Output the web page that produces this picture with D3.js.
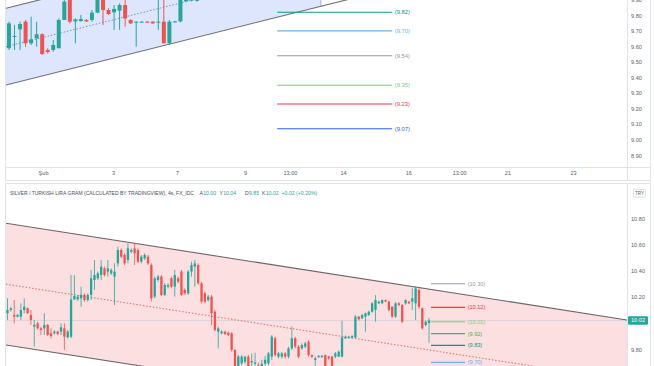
<!DOCTYPE html>
<html><head><meta charset="utf-8">
<script src="https://cdn.jsdelivr.net/npm/d3@7"></script>
<style>
body{margin:0;background:#fff;}
svg{display:block;font-family:"Liberation Sans",Arial,sans-serif;}
</style>
</head><body>
<svg id="c" width="654" height="366"></svg>
<script>
// ---------------- TOP PANEL DATA ----------------
const topOpen  = [9.588,9.662,9.710,9.759,9.620,9.652,9.678,9.577,9.577,9.588,9.770,9.900,9.761,9.763,9.770,9.770,9.817,9.900,9.834,9.819,9.830,9.866,9.770,9.753,9.757,9.759,9.759,9.757,9.759,9.620,9.757,9.761,9.890,9.895,9.893];
const topHigh  = [9.759,9.738,9.759,9.770,9.791,9.759,9.684,9.588,9.641,9.780,9.900,9.920,9.780,9.802,9.775,9.834,9.920,9.920,9.845,9.866,9.877,9.898,9.774,9.761,9.761,9.763,9.761,9.900,9.900,9.770,9.763,9.930,9.930,9.930,9.930];
const topLow   = [9.577,9.577,9.577,9.598,9.609,9.598,9.545,9.555,9.566,9.588,9.770,9.748,9.620,9.759,9.757,9.759,9.813,9.738,9.802,9.706,9.706,9.727,9.744,9.598,9.753,9.755,9.746,9.706,9.620,9.609,9.753,9.755,9.885,9.890,9.888];
const topClose = [9.748,9.667,9.744,9.620,9.645,9.678,9.551,9.564,9.609,9.770,9.888,9.759,9.774,9.776,9.761,9.817,9.900,9.834,9.808,9.841,9.866,9.780,9.748,9.759,9.759,9.757,9.748,9.759,9.620,9.759,9.761,9.905,9.905,9.910,9.905];

const topTickLabels = ["Şub","3","7","9","13:00","14","16","13:00","21","23"];
const topTickIndex  = [6.15,18.8,30.4,42.7,50.8,60.4,72.2,81.4,90.1,102.0];
const topPriceTicks = [8.9,9.0,9.1,9.2,9.3,9.4,9.5,9.6,9.7,9.8,9.9];

const topFibLevels = [9.82,9.70,9.54,9.35,9.23,9.07];
const topFibColors = ["#089981","#64b5f6","#9598a1","#81c784","#f23645","#2962ff"];
const topFibSpan   = [48.5,69.3];

const topChannelIndex = [-0.55,61.7];
const topChannelUpper = [9.845,10.398];
const topChannelLower = [9.352,9.905];
const topChannelFillEnd = 56.4;

// ---------------- BOTTOM PANEL DATA ----------------
const botOpen  = [10.075,10.100,10.062,10.049,10.049,10.100,10.113,10.062,9.973,9.998,9.960,9.960,9.986,9.922,9.922,9.935,9.935,9.960,9.891,9.896,10.181,10.181,10.189,10.215,10.176,10.215,10.329,10.342,10.367,10.418,10.393,10.380,10.355,10.456,10.558,10.520,10.482,10.545,10.571,10.558,10.469,10.494,10.507,10.444,10.202,10.329,10.355,10.215,10.278,10.342,10.278,10.342,10.393,10.253,10.227,10.393,10.431,10.444,10.304,10.227,10.176,10.202,10.087,9.935,9.922,9.935,9.927,9.922,9.795,9.673,9.693,9.705,9.744,9.700,9.690,9.680,9.660,9.690,9.693,9.744,9.884,9.744,9.744,9.769,9.744,9.807,9.884,9.820,9.807,9.820,9.858,9.756,9.718,9.740,9.740,9.756,9.744,9.744,9.744,9.744,9.744,9.884,9.886,9.889,9.890,10.049,10.036,10.049,10.062,10.087,10.100,10.151,10.151,10.176,10.164,10.125,10.049,10.151,10.138,10.151,10.164,10.164,10.151,10.253,10.113,9.985,10.000];
const botHigh  = [10.189,10.125,10.176,10.070,10.151,10.189,10.120,10.100,10.024,10.011,9.973,10.075,9.993,9.960,9.947,9.942,9.998,9.998,9.947,10.367,10.367,10.215,10.278,10.227,10.227,10.405,10.482,10.393,10.482,10.431,10.482,10.418,10.456,10.584,10.571,10.533,10.609,10.571,10.609,10.571,10.520,10.533,10.520,10.456,10.355,10.367,10.367,10.304,10.304,10.355,10.405,10.355,10.405,10.266,10.405,10.469,10.482,10.456,10.316,10.240,10.215,10.215,10.100,9.973,9.947,9.942,9.935,9.930,9.800,9.757,9.757,9.750,9.757,9.769,9.774,9.700,9.720,9.750,9.780,9.909,9.896,9.780,9.780,9.780,9.820,9.973,9.896,9.833,9.845,9.858,9.870,9.760,9.744,9.756,9.756,9.760,9.750,9.750,9.780,9.790,10.018,9.905,9.903,9.910,10.062,10.055,10.070,10.080,10.095,10.160,10.214,10.170,10.180,10.180,10.170,10.130,10.160,10.160,10.145,10.180,10.170,10.265,10.278,10.265,10.120,10.020,10.040];
const botLow   = [10.024,10.087,9.998,10.044,10.024,10.075,10.070,9.986,9.820,9.952,9.909,9.909,9.901,9.884,9.914,9.909,9.909,9.795,9.884,9.884,10.176,10.171,10.125,10.164,10.164,10.176,10.253,10.329,10.329,10.355,10.355,10.367,10.138,10.431,10.494,10.444,10.456,10.533,10.444,10.456,10.456,10.482,10.444,10.164,10.189,10.316,10.207,10.207,10.265,10.265,10.202,10.304,10.207,10.215,10.215,10.355,10.278,10.291,10.151,10.151,10.164,9.986,9.935,9.807,9.914,9.909,9.900,9.782,9.620,9.640,9.680,9.690,9.650,9.650,9.650,9.630,9.640,9.670,9.680,9.718,9.744,9.730,9.730,9.730,9.730,9.795,9.807,9.731,9.795,9.807,9.744,9.730,9.673,9.735,9.735,9.660,9.720,9.660,9.730,9.740,9.738,9.878,9.880,9.880,9.885,10.020,10.030,9.934,10.055,10.080,10.011,10.145,10.145,10.160,10.090,10.040,10.040,10.130,10.000,10.140,10.145,10.100,10.024,10.110,9.950,9.975,9.850];
const botClose = [10.100,10.113,10.049,10.062,10.100,10.125,10.075,10.024,9.986,9.960,9.947,9.986,9.909,9.901,9.935,9.917,9.968,9.896,9.935,10.181,10.207,10.202,10.215,10.176,10.215,10.342,10.367,10.380,10.431,10.367,10.418,10.405,10.393,10.558,10.507,10.456,10.571,10.558,10.533,10.469,10.507,10.520,10.456,10.189,10.342,10.355,10.215,10.291,10.291,10.278,10.367,10.316,10.215,10.227,10.393,10.444,10.456,10.304,10.164,10.164,10.202,10.075,9.947,9.960,9.935,9.917,9.909,9.795,9.640,9.744,9.744,9.744,9.673,9.710,9.700,9.660,9.690,9.720,9.769,9.896,9.757,9.769,9.769,9.744,9.807,9.884,9.820,9.744,9.833,9.845,9.756,9.744,9.731,9.750,9.750,9.673,9.731,9.673,9.769,9.782,9.891,9.896,9.896,9.901,10.049,10.029,10.062,10.075,10.087,10.151,10.176,10.164,10.176,10.164,10.100,10.049,10.151,10.138,10.011,10.176,10.151,10.189,10.265,10.125,9.960,10.011,10.020];

const botPriceTicks = [9.8,10.2,10.4,10.6,10.8];
const botFibLevels = [10.30,10.12,10.01,9.92,9.83,9.70];
const botFibColors = ["#9598a1","#f23645","#81c784","#4caf50","#089981","#64b5f6"];
const botFibSpan   = [126.6,136.8];

const botChannelIndex = [-0.45,185.2];
const botChannelUpper = [10.762,10.024];
const botChannelMid   = [10.297,9.560];
const botChannelLower = [9.833,9.095];
const lastPrice = 10.02;

const titleMain = "SILVER / TURKISH LIRA GRAM (CALCULATED BY TRADINGVIEW), 4s, FX_IDC";
const titleKeys = ["A","Y","D","K",""];
const titleVals = ["10.00","10.04","9.85","10.02","+0.02 (+0.20%)"];

// ---------------- DRAWING ----------------
const UP="#26a69a", DOWN="#ef5350", BORDER="#e0e3eb", AXT="#5d606b";
const svg=d3.select("#c");
svg.append("rect").attr("width",654).attr("height",366).attr("fill","#fff");

const defs=svg.append("defs");
defs.append("clipPath").attr("id","clipT").append("rect").attr("x",6).attr("y",0).attr("width",621).attr("height",167.5);
defs.append("clipPath").attr("id","clipB").append("rect").attr("x",6).attr("y",183).attr("width",621).attr("height",183);

const xT=d3.scaleLinear().domain([0,100]).range([9,9+5.53*100]);
const yT=d3.scaleLinear().domain([8.9,9.8]).range([155.25,15.3]);
const xB=d3.scaleLinear().domain([0,126]).range([7.5,429]);
const yB=d3.scaleLinear().domain([9.8,10.8]).range([349.3,218.3]);

function drawCandles(g,x,y,O,H,L,C,bw,ww){
  const idx=d3.range(O.length);
  g.append("g").selectAll("line").data(idx).join("line")
    .attr("x1",i=>x(i)).attr("x2",i=>x(i))
    .attr("y1",i=>y(H[i])).attr("y2",i=>y(L[i]))
    .attr("stroke",i=>C[i]>=O[i]?UP:DOWN).attr("stroke-width",ww);
  g.append("g").selectAll("rect").data(idx).join("rect")
    .attr("x",i=>x(i)-bw/2).attr("width",bw)
    .attr("y",i=>y(Math.max(O[i],C[i])))
    .attr("height",i=>Math.max(1,Math.abs(y(O[i])-y(C[i]))))
    .attr("fill",i=>C[i]>=O[i]?UP:DOWN);
}

// ===== TOP PANEL =====
const gT=svg.append("g").attr("clip-path","url(#clipT)");
const tU=d3.scaleLinear().domain(topChannelIndex).range(topChannelUpper);
const tL=d3.scaleLinear().domain(topChannelIndex).range(topChannelLower);
const fillPts=[[topChannelIndex[0],tU(topChannelIndex[0])],[topChannelFillEnd,tU(topChannelFillEnd)],[topChannelFillEnd,tL(topChannelFillEnd)],[topChannelIndex[0],tL(topChannelIndex[0])]];
gT.append("path").attr("d",d3.line().x(d=>xT(d[0])).y(d=>yT(d[1]))(fillPts)+"Z").attr("fill","#dde6fd");
gT.append("line").attr("x1",xT(topChannelFillEnd)).attr("x2",xT(topChannelFillEnd))
  .attr("y1",yT(tU(topChannelFillEnd))).attr("y2",yT(tL(topChannelFillEnd))).attr("stroke","#8fa6e8").attr("stroke-width",0.8);
gT.append("line").attr("x1",xT(topChannelIndex[0])).attr("x2",xT(topChannelFillEnd))
  .attr("y1",yT((tU(topChannelIndex[0])+tL(topChannelIndex[0]))/2)).attr("y2",yT((tU(topChannelFillEnd)+tL(topChannelFillEnd))/2))
  .attr("stroke","#6f8fe0").attr("stroke-width",1).attr("stroke-dasharray","1.5,1.8");
[tU,tL].forEach(f=>{
  gT.append("line").attr("x1",xT(topChannelIndex[0])).attr("x2",xT(topChannelIndex[1]))
    .attr("y1",yT(f(topChannelIndex[0]))).attr("y2",yT(f(topChannelIndex[1])))
    .attr("stroke","#6b6e78").attr("stroke-width",1.1);
});
drawCandles(gT,xT,yT,topOpen,topHigh,topLow,topClose,4,1);
topFibLevels.forEach((v,k)=>{
  gT.append("line").attr("x1",xT(topFibSpan[0])).attr("x2",xT(topFibSpan[1]))
    .attr("y1",yT(v)).attr("y2",yT(v)).attr("stroke",topFibColors[k]).attr("stroke-width",1.1);
  gT.append("text").attr("x",xT(topFibSpan[1])+2.5).attr("y",yT(v)).attr("dy","0.35em")
    .attr("font-size",5.8).attr("fill",topFibColors[k]).text("("+v.toFixed(2)+")");
});

// ===== BOTTOM PANEL =====
const gB=svg.append("g").attr("clip-path","url(#clipB)");
const bU=d3.scaleLinear().domain(botChannelIndex).range(botChannelUpper);
const bM=d3.scaleLinear().domain(botChannelIndex).range(botChannelMid);
const bL=d3.scaleLinear().domain(botChannelIndex).range(botChannelLower);
const bPts=[[botChannelIndex[0],bU(botChannelIndex[0])],[botChannelIndex[1],bU(botChannelIndex[1])],[botChannelIndex[1],bL(botChannelIndex[1])],[botChannelIndex[0],bL(botChannelIndex[0])]];
gB.append("path").attr("d",d3.line().x(d=>xB(d[0])).y(d=>yB(d[1]))(bPts)+"Z").attr("fill","#fcdfe1");
gB.append("line").attr("x1",6).attr("x2",627).attr("y1",yB(lastPrice)).attr("y2",yB(lastPrice))
  .attr("stroke","#d0d2d8").attr("stroke-width",0.8);
gB.append("line").attr("x1",xB(botChannelIndex[0])).attr("x2",xB(botChannelIndex[1]))
  .attr("y1",yB(bM(botChannelIndex[0]))).attr("y2",yB(bM(botChannelIndex[1])))
  .attr("stroke","#e06b6b").attr("stroke-width",1).attr("stroke-dasharray","1.5,1.8");
[bU,bL].forEach(f=>{
  gB.append("line").attr("x1",xB(botChannelIndex[0])).attr("x2",xB(botChannelIndex[1]))
    .attr("y1",yB(f(botChannelIndex[0]))).attr("y2",yB(f(botChannelIndex[1])))
    .attr("stroke","#6e6466").attr("stroke-width",1.1);
});
drawCandles(gB,xB,yB,botOpen,botHigh,botLow,botClose,2.3,0.8);
botFibLevels.forEach((v,k)=>{
  gB.append("line").attr("x1",xB(botFibSpan[0])).attr("x2",xB(botFibSpan[1]))
    .attr("y1",yB(v)).attr("y2",yB(v)).attr("stroke",botFibColors[k]).attr("stroke-width",1.1);
  gB.append("text").attr("x",xB(botFibSpan[1])+2.5).attr("y",yB(v)).attr("dy","0.35em")
    .attr("font-size",5.6).attr("fill",botFibColors[k]).text("("+v.toFixed(2)+")");
});

// ===== FRAMES =====
const fr=svg.append("g").attr("stroke",BORDER).attr("stroke-width",1).attr("fill","none");
fr.append("line").attr("x1",5.5).attr("x2",5.5).attr("y1",0).attr("y2",181);
fr.append("line").attr("x1",627.5).attr("x2",627.5).attr("y1",0).attr("y2",181);
fr.append("line").attr("x1",650.5).attr("x2",650.5).attr("y1",0).attr("y2",366);
fr.append("line").attr("x1",5.5).attr("x2",651).attr("y1",167.5).attr("y2",167.5);
fr.append("line").attr("x1",5.5).attr("x2",651).attr("y1",180.5).attr("y2",180.5);
fr.append("line").attr("x1",5.5).attr("x2",651).attr("y1",183.5).attr("y2",183.5);
fr.append("line").attr("x1",5.5).attr("x2",5.5).attr("y1",183).attr("y2",366);
fr.append("line").attr("x1",627.5).attr("x2",627.5).attr("y1",183).attr("y2",366);

// ===== AXES =====
function styleAxis(g,fs){
  g.select(".domain").remove();
  g.selectAll("line").remove();
  g.selectAll("text").attr("font-size",fs).attr("fill",AXT).attr("font-family","Liberation Sans, Arial, sans-serif");
}
const axT=svg.append("g").attr("transform","translate(628,0)")
  .call(d3.axisRight(yT).tickValues(topPriceTicks).tickSize(0).tickPadding(3).tickFormat(d3.format(".2f")));
styleAxis(axT,5.6);
const axX=svg.append("g").attr("transform","translate(0,168)")
  .call(d3.axisBottom(xT).tickValues(topTickIndex).tickSize(0).tickPadding(3.2).tickFormat((d,i)=>topTickLabels[i]));
styleAxis(axX,5.6);
const axB=svg.append("g").attr("transform","translate(628,0)")
  .call(d3.axisRight(yB).tickValues(botPriceTicks).tickSize(0).tickPadding(3).tickFormat(d3.format(".2f")));
styleAxis(axB,5.6);

// last price badge
svg.append("rect").attr("x",628).attr("y",yB(lastPrice)-4.3).attr("width",20).attr("height",8.6).attr("rx",1).attr("fill",UP);
svg.append("text").attr("x",638).attr("y",yB(lastPrice)).attr("dy","0.35em").attr("text-anchor","middle")
  .attr("font-size",5.6).attr("fill","#fff").text(lastPrice.toFixed(2));

// TRY box
svg.append("rect").attr("x",633.5).attr("y",189.5).attr("width",12).attr("height",7.5).attr("rx",1)
  .attr("fill","#fff").attr("stroke","#d1d4dc").attr("stroke-width",0.7);
svg.append("text").attr("x",639.5).attr("y",193.3).attr("dy","0.35em").attr("text-anchor","middle")
  .attr("font-size",4.6).attr("fill",AXT).text("TRY");

// title
svg.append("text").attr("x",10).attr("y",194.8).attr("font-size",5.2).attr("fill","#4a4d57")
  .attr("textLength",184).attr("lengthAdjust","spacingAndGlyphs").text(titleMain);
const valX=[199.5,219.5,245,262,281.5];
titleVals.forEach((v,k)=>{
  let x=valX[k];
  if(titleKeys[k]){
    const kt=svg.append("text").attr("x",x).attr("y",194.8).attr("font-size",5.2).attr("fill","#4a4d57").text(titleKeys[k]);
    x+=kt.node().getComputedTextLength()+0.2;
  }
  svg.append("text").attr("x",x).attr("y",194.8).attr("font-size",5.2).attr("fill",UP).text(v);
});
</script>
</body></html>
